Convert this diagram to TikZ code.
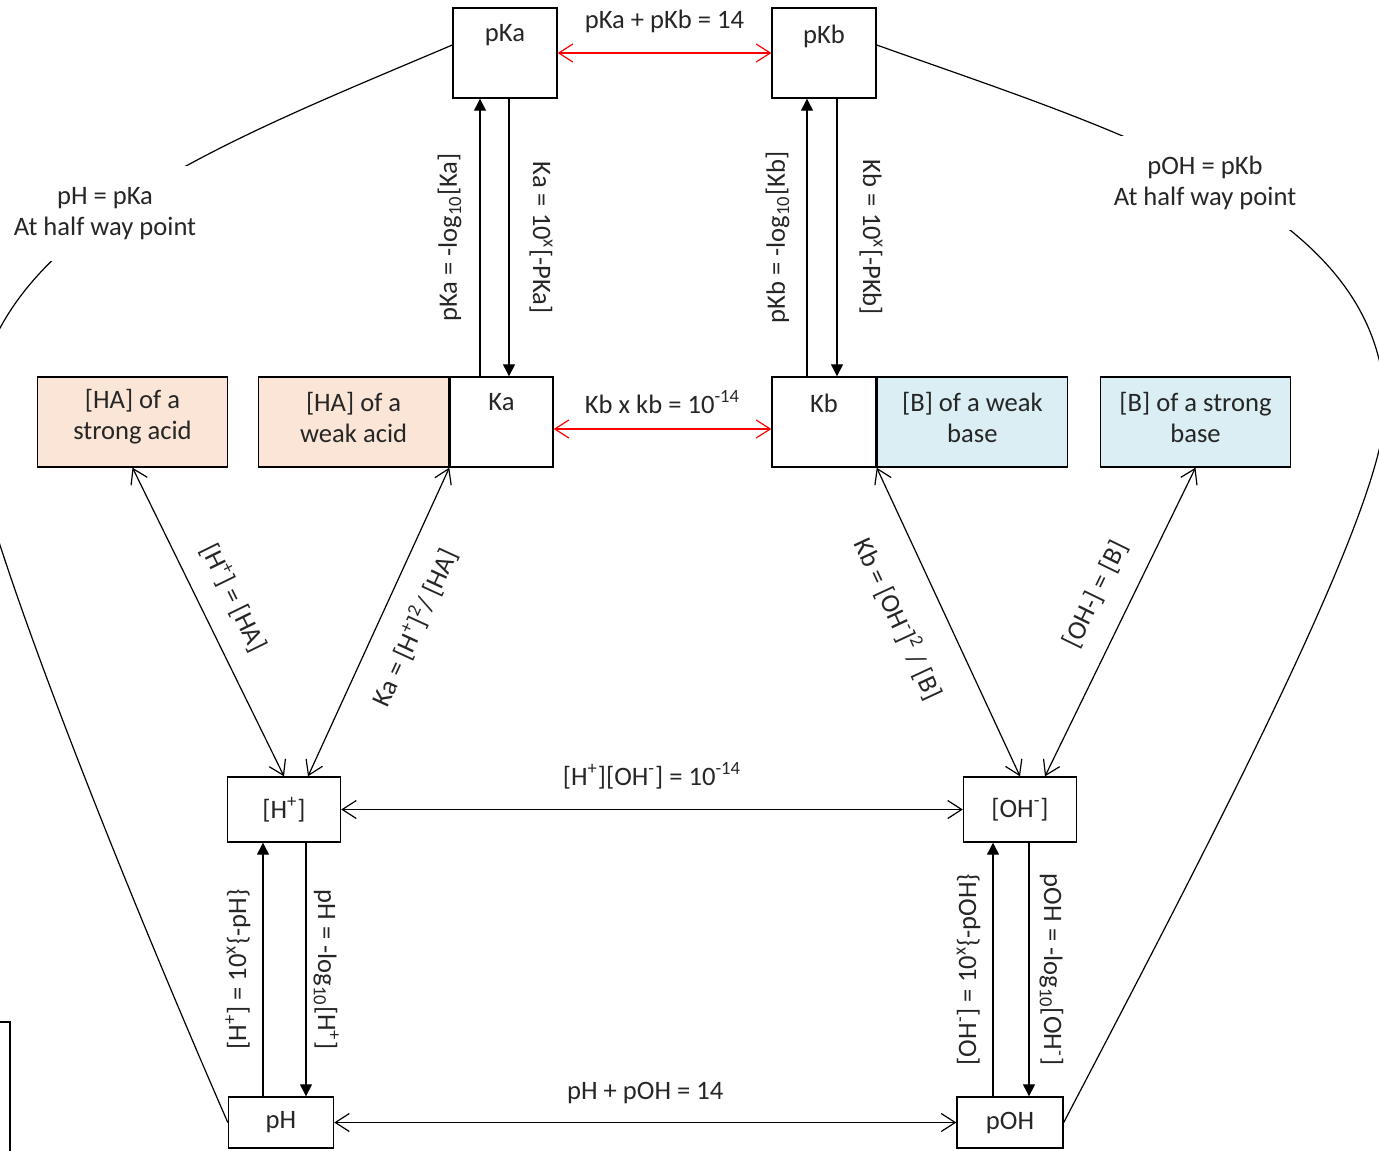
\documentclass[tikz,border=0pt]{standalone}
\usepackage{fontspec}
\setmainfont{Carlito}
\usetikzlibrary{positioning, arrows.meta, calc}

\definecolor{acidfill}{HTML}{FBE5D6}
\definecolor{basefill}{HTML}{DAEEF3}

\begin{document}
\begin{tikzpicture}[x=0.5pt, y=-0.5pt, line width=0.6pt,
      font=\fontsize{13.3pt}{15.5pt}\selectfont, text=black!85,
      box/.style={draw, line width=0.7pt, minimum width=52pt,
        minimum height=45pt, align=center, inner sep=1pt},
      acid/.style={box, fill=acidfill, minimum width=95pt},
      base/.style={box, fill=basefill, minimum width=95pt},
      inside/.style={align=center, yshift=2.5pt},
      ion/.style={box, minimum width=56.5pt, minimum height=32.5pt},
      phbox/.style={box, minimum width=52.5pt, minimum height=25.5pt},
      note/.style={fill=white, align=center, inner sep=0pt,
        minimum width=95pt, minimum height=47pt},
      eq/.style={inner sep=1pt, text=black!85},
      conv/.style={-{Triangle[length=6pt, width=6pt]}},
      >={Straight Barb[length=7pt, width=9pt]}]
    \clip (0,0) rectangle (1379,1150);

    % constants
    \node[box, label={[below=5pt]north:pKa}] (pKa) at (505,53) {};
    \node[box, label={[below=5pt]north:pKb}] (pKb) at (824,53) {};
    \node[box, minimum width=51.5pt, label={[below=5pt]north:Ka}] (Ka) at (501.5,422) {};
    \node[box, label={[below=5pt]north:Kb}] (Kb) at (824,422) {};
    \node[acid, left=0pt of Ka, label={[inside]center:[HA] of a\\weak acid}] (weakacid) {};
    \node[acid, label={[inside]center:[HA] of a\\strong acid}] (strongacid) at (132.5,422) {};
    \node[base, right=0pt of Kb, label={[inside]center:[B] of a weak\\base}] (weakbase) {};
    \node[base, label={[inside]center:[B] of a strong\\base}] (strongbase) at (1195.5,422) {};

    % ions and p-scale
    \node[ion] (Hp) at (284,809.5) {[H\textsuperscript{+}]};
    \node[ion] (OH) at (1020,809.5) {[OH\textsuperscript{-}]};
    \node[phbox] (pH) at (281,1122.5) {pH};
    \node[phbox, minimum width=53pt] (pOH) at (1010,1122.5) {pOH};

    % red links
    \draw[<->, red] (pKa) -- (pKb)
      node[midway, above=9pt, eq] {pKa + pKb = 14};
    \draw[<->, red] ($(Ka.east)+(0,7)$) -- ($(Kb.west)+(0,7)$)
      node[midway, above=6.5pt, eq] {Kb x kb = 10\textsuperscript{-14}};

    % black links
    \draw[<->] (Hp) -- (OH)
      node[midway, above=9pt, eq] {[H\textsuperscript{+}][OH\textsuperscript{-}] = 10\textsuperscript{-14}};
    \draw[<->] (pH) -- (pOH)
      node[midway, above=8pt, eq] {pH + pOH = 14};

    % conversions
    \draw[conv] ($(Ka.north)+(-21.5,0)$) -- ($(pKa.south)+(-25,0)$)
      node[midway, sloped, above=8pt, eq] {pKa = -log\textsubscript{10}[Ka]};
    \draw[conv] ($(pKa.south)+(4,0)$) -- ($(Ka.north)+(7.5,0)$)
      node[midway, sloped, allow upside down, above=9pt, eq] {Ka = 10\textsuperscript{x}[-PKa]};
    \draw[conv] ($(Kb.north)+(-17,0)$) -- ($(pKb.south)+(-17,0)$)
      node[midway, sloped, above=7.5pt, eq] {pKb = -log\textsubscript{10}[Kb]};
    \draw[conv] ($(pKb.south)+(13,0)$) -- ($(Kb.north)+(13,0)$)
      node[midway, sloped, allow upside down, above=10pt, eq] {Kb = 10\textsuperscript{x}[-PKb]};
    \draw[conv] ($(pH.north)+(-18,0)$) -- ($(Hp.south)+(-21,0)$)
      node[midway, sloped, above=5pt, eq] {[H\textsuperscript{+}] = 10\textsuperscript{x}\{-pH\}};
    \draw[conv] ($(Hp.south)+(22,0)$) -- ($(pH.north)+(25,0)$)
      node[midway, sloped, allow upside down, above=2.5pt, eq] {pH = -log\textsubscript{10}[H\textsuperscript{+}]};
    \draw[conv] ($(pOH.north)+(-17,0)$) -- ($(OH.south)+(-27,0)$)
      node[midway, sloped, above=5pt, eq] {[OH\textsuperscript{-}] = 10\textsuperscript{x}\{-pOH\}};
    \draw[conv] ($(OH.south)+(9,0)$) -- ($(pOH.north)+(19,0)$)
      node[midway, sloped, allow upside down, above=4pt, eq] {pOH = -log\textsubscript{10}[OH\textsuperscript{-}]};

    % concentrations
    \draw[<->] (strongacid.south) -- (Hp.north)
      node[pos=0.47, sloped, above=9.5pt, eq] {[H\textsuperscript{+}] = [HA]};
    \draw[<->] ($(Hp.north)+(24,0)$) -- (weakacid.south east)
      node[pos=0.53, sloped, below=9.5pt, eq] {Ka = [H\textsuperscript{+}]\textsuperscript{2}/ [HA]};
    \draw[<->] (weakbase.south west) -- (OH.north)
      node[pos=0.43, sloped, below=14pt, eq] {Kb = [OH\textsuperscript{-}]\textsuperscript{2} / [B]};
    \draw[<->] ($(OH.north)+(25,0)$) -- (strongbase.south)
      node[pos=0.54, sloped, above=10pt, eq] {[OH-] = [B]};

    % half way point curves
    \draw ($(pKa.west)+(0,-8)$) .. controls +(-240,102) and (-42,242) .. (-25,450)
      .. controls (-20,510) and (84.5,793.5) .. (pH.west);
    \draw ($(pKb.east)+(0,-8)$) .. controls +(250,89) and (1385,210) .. (1385,410)
      .. controls (1385,510) and (1204,854) .. (pOH.east);
    \node[note] (halfacid) at (105,213.5) {pH = pKa\\At half way point};
    \node[note] (halfbase) at (1205,183) {pOH = pKb\\At half way point};

    \draw (-20,1022) -| (10,1170);
  \end{tikzpicture}
\end{document}
